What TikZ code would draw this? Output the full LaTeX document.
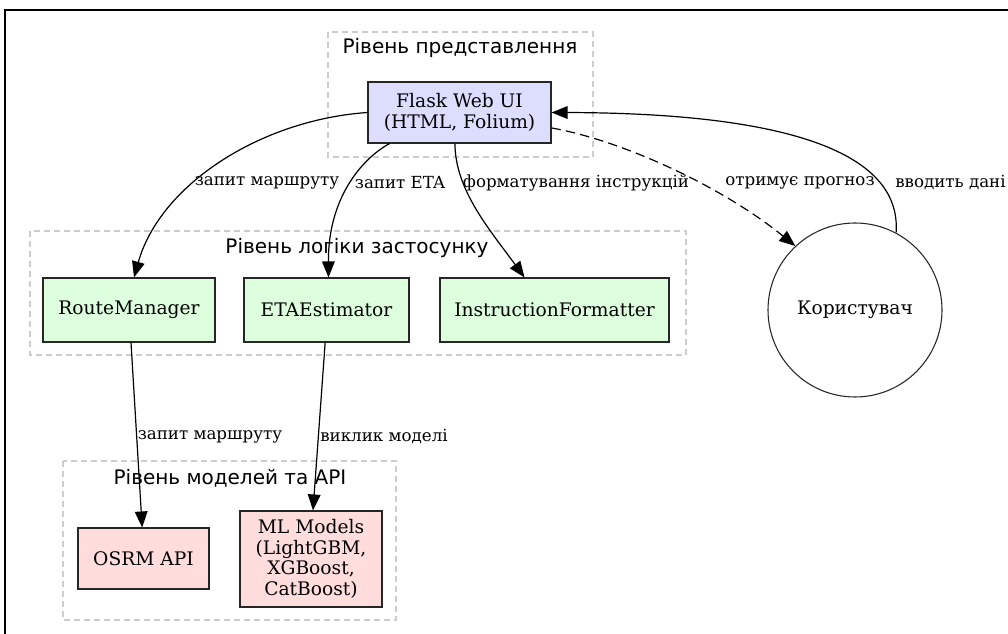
\documentclass[tikz,border=0pt]{standalone}
\usepackage{fontspec}
\setmainfont{DejaVu Serif}
\setsansfont{DejaVu Sans}
\usetikzlibrary{arrows.meta}
\definecolor{uiblue}{HTML}{DDDDFF}
\definecolor{logicgreen}{HTML}{DDFFDD}
\definecolor{modelpink}{HTML}{FFDDDD}
\definecolor{clustergray}{HTML}{CCCCCC}
\begin{document}
\begin{tikzpicture}[x=0.75pt,y=-0.75pt,
  box/.style={draw=black!85, line width=0.8pt, inner sep=0pt, align=center,
    font=\fontsize{14}{15.5}\selectfont},
  uibox/.style={box, fill=uiblue},
  logicbox/.style={box, fill=logicgreen},
  modelbox/.style={box, fill=modelpink},
  usercircle/.style={draw=black!85, line width=0.8pt, circle, inner sep=0pt,
    minimum size=174*0.75pt, font=\fontsize{14}{15.5}\selectfont},
  cluster/.style={draw=clustergray, line width=0.8pt, dash pattern=on 4.5pt off 3pt},
  clustertitle/.style={font=\sffamily\fontsize{15}{17}\selectfont, inner sep=0pt},
  edge/.style={draw=black, line width=0.9pt, -{Triangle[length=12pt,width=9.5pt]}},
  dashededge/.style={edge, dash pattern=on 7pt off 4pt},
  lbl/.style={font=\fontsize{12.5}{14}\selectfont, inner sep=0pt},
]
\useasboundingbox (0,0) rectangle (1008,634);
% frame
\draw[line width=1.4pt] (5,634) -- (5,10) -- (1008,10);

% clusters
\draw[cluster] (328,32) rectangle (593,157);
\node[clustertitle] (t1) at (460,48) {Рівень представлення};
\draw[cluster] (30,231) rectangle (686,355);
\node[clustertitle] (t2) at (357,248) {Рівень логіки застосунку};
\draw[cluster] (63,461) rectangle (396,620);
\node[clustertitle] (t3) at (230,478) {Рівень моделей та API};

% nodes
\node[uibox, minimum width=183*0.75pt, minimum height=61*0.75pt] (flask) at (459.5,112.5) {Flask Web UI\\(HTML, Folium)};
\node[logicbox, minimum width=172*0.75pt, minimum height=64*0.75pt] (rm) at (129,310) {RouteManager};
\node[logicbox, minimum width=165*0.75pt, minimum height=64*0.75pt] (eta) at (326.5,310) {ETAEstimator};
\node[logicbox, minimum width=229*0.75pt, minimum height=64*0.75pt] (if) at (554.5,310) {InstructionFormatter};
\node[modelbox, minimum width=131*0.75pt, minimum height=61*0.75pt] (osrm) at (143.5,558.5) {OSRM API};
\node[modelbox, minimum width=142*0.75pt, minimum height=96*0.75pt] (ml) at (311,559) {ML Models\\(LightGBM,\\XGBoost,\\CatBoost)};
\node[usercircle] (user) at (855,310) {Користувач};

% edges
\draw[edge] (flask.west) .. controls (260,120) and (160,185) .. ([xshift=3.75pt]rm.north);
\draw[edge] ([xshift=-52.5pt]flask.south) .. controls (360,160) and (328,200) .. ([xshift=1.5pt]eta.north);
\draw[edge] ([xshift=-3.4pt]flask.south) .. controls (455,190) and (490,230) .. ([xshift=-22.5pt]if.north);
\draw[dashededge] ([yshift=-11.6pt]flask.east) .. controls (620,140) and (720,185) .. (user.133);
\draw[edge] (user.62) .. controls (902,150) and (780,113) .. (flask.east);
\draw[edge] ([xshift=1.5pt]rm.south) -- ([xshift=-1pt]osrm.north);
\draw[edge] ([xshift=-1pt]eta.south) -- ([xshift=1.5pt]ml.north);

% edge labels
\node[lbl] (l1) at (267,183) {запит маршруту};
\node[lbl] (l2) at (400,183) {запит ETA};
\node[lbl] (l3) at (576,183) {форматування інструкцій};
\node[lbl] (l4) at (800,183) {отримує прогноз};
\node[lbl, anchor=west] (l5) at (895,183) {вводить дані};
\node[lbl] (l6) at (210,437) {запит маршруту};
\node[lbl] (l7) at (384,437) {виклик моделі};
\end{tikzpicture}
\end{document}
